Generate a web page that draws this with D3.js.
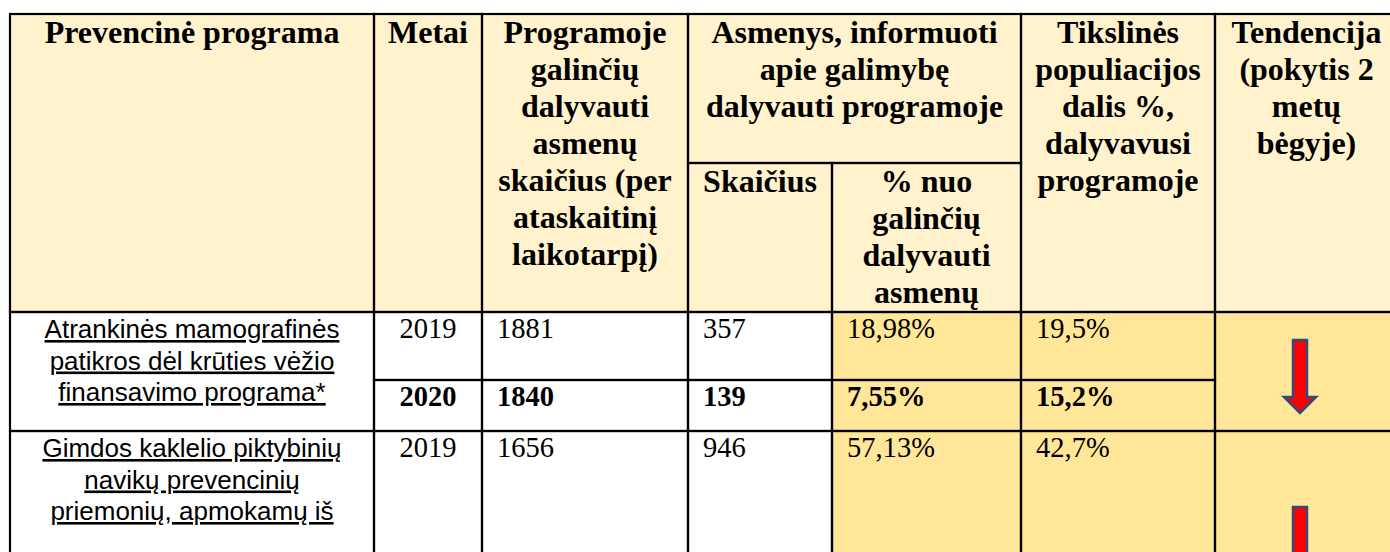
<!DOCTYPE html>
<html>
<head>
<meta charset="utf-8">
<script src="https://cdn.jsdelivr.net/npm/d3@7"></script>
<style>
  html, body { margin: 0; padding: 0; background: #ffffff; }
  svg { display: block; }
</style>
</head>
<body>
<svg id="chart" width="1390" height="552"></svg>
<script>
// ---------------- DATA ----------------
const headerProgram = ["Prevencinė programa"];
const headerYear = ["Metai"];
const headerEligible = ["Programoje", "galinčių", "dalyvauti", "asmenų", "skaičius (per", "ataskaitinį", "laikotarpį)"];
const headerInformed = ["Asmenys, informuoti", "apie galimybę", "dalyvauti programoje"];
const headerInformedCount = ["Skaičius"];
const headerInformedPct = ["% nuo", "galinčių", "dalyvauti", "asmenų"];
const headerTarget = ["Tikslinės", "populiacijos", "dalis %,", "dalyvavusi", "programoje"];
const headerTrend = ["Tendencija", "(pokytis 2", "metų", "bėgyje)"];

const programLines = [
  ["Atrankinės mamografinės", "patikros dėl krūties vėžio", "finansavimo programa*"],
  ["Gimdos kaklelio piktybinių", "navikų prevencinių", "priemonių, apmokamų iš"]
];
const rowProgram = [0, 0, 1];            // which program each row belongs to
const years = [2019, 2020, 2019];
const eligible = [1881, 1840, 1656];
const informedCount = [357, 139, 946];
const informedPct = [18.98, 7.55, 57.13];
const targetPct = [19.5, 15.2, 42.7];
const trend = ["down", "down"];          // per program

// ---------------- LAYOUT ----------------
const colKeys = ["program", "year", "eligible", "count", "pct", "target", "trend"];
const colEdges = [10, 374, 482, 688, 832, 1021, 1215, 1398];
const xL = d3.scaleOrdinal().domain(colKeys).range(colEdges.slice(0, 7));
const xR = d3.scaleOrdinal().domain(colKeys).range(colEdges.slice(1));

const tableTop = 14, subTop = 163, headerBottom = 312;
const rowEdges = [312, 380, 431, 600];
const yT = d3.scaleOrdinal().domain(d3.range(3)).range(rowEdges.slice(0, 3));
const yB = d3.scaleOrdinal().domain(d3.range(3)).range(rowEdges.slice(1));

const headerBg = "#FFF2CC", hiBg = "#FFE699", stroke = "#000";
const serif = "'Liberation Serif','Times New Roman',serif";
const sans = "'Liberation Sans',Arial,sans-serif";

const lt = d3.formatLocale({decimal: ",", thousands: " ", grouping: [3], currency: ["", " €"]});
const f2 = lt.format(".2f"), f1 = lt.format(".1f");

const svg = d3.select("#chart");

// ---------------- HEADER ----------------
const headerCells = [
  {x0: xL("program"), x1: xR("program"), y0: tableTop, y1: headerBottom, lines: headerProgram},
  {x0: xL("year"), x1: xR("year"), y0: tableTop, y1: headerBottom, lines: headerYear},
  {x0: xL("eligible"), x1: xR("eligible"), y0: tableTop, y1: headerBottom, lines: headerEligible},
  {x0: xL("count"), x1: xR("pct"), y0: tableTop, y1: subTop, lines: headerInformed},
  {x0: xL("count"), x1: xR("count"), y0: subTop, y1: headerBottom, lines: headerInformedCount},
  {x0: xL("pct"), x1: xR("pct"), y0: subTop, y1: headerBottom, lines: headerInformedPct},
  {x0: xL("target"), x1: xR("target"), y0: tableTop, y1: headerBottom, lines: headerTarget},
  {x0: xL("trend"), x1: xR("trend"), y0: tableTop, y1: headerBottom, lines: headerTrend}
];

const hg = svg.append("g");
hg.selectAll("rect").data(headerCells).join("rect")
  .attr("x", d => d.x0).attr("y", d => d.y0)
  .attr("width", d => d.x1 - d.x0).attr("height", d => d.y1 - d.y0)
  .attr("fill", headerBg);

hg.selectAll("text.h").data(headerCells).join("text")
  .attr("class", "h")
  .attr("font-family", serif).attr("font-weight", "bold").attr("font-size", 32)
  .attr("text-anchor", "middle").attr("fill", "#000")
  .each(function(d) {
    d3.select(this).selectAll("tspan").data(d.lines).join("tspan")
      .attr("x", (d.x0 + d.x1) / 2)
      .attr("y", (l, i) => d.y0 + 29 + i * 37)
      .text(l => l);
  });

// ---------------- BODY ----------------
const rows = d3.range(years.length).map(i => ({
  i,
  bold: i > 0 && rowProgram[i] === rowProgram[i - 1],
  cells: [
    {key: "year", text: String(years[i]), anchor: "middle", bg: "#fff"},
    {key: "eligible", text: String(eligible[i]), anchor: "start", bg: "#fff"},
    {key: "count", text: String(informedCount[i]), anchor: "start", bg: "#fff"},
    {key: "pct", text: f2(informedPct[i]) + "%", anchor: "start", bg: hiBg},
    {key: "target", text: f1(targetPct[i]) + "%", anchor: "start", bg: hiBg}
  ]
}));

// program groups (merged col1 & col7)
const groups = programLines.map((lines, p) => {
  const idx = d3.range(rowProgram.length).filter(i => rowProgram[i] === p);
  return {p, lines, y0: yT(idx[0]), y1: yB(idx[idx.length - 1]), trend: trend[p]};
});

const bg = svg.append("g");
bg.selectAll("rect.g1").data(groups).join("rect").attr("class", "g1")
  .attr("x", xL("program")).attr("y", d => d.y0)
  .attr("width", xR("program") - xL("program")).attr("height", d => d.y1 - d.y0)
  .attr("fill", "#fff");
bg.selectAll("rect.g7").data(groups).join("rect").attr("class", "g7")
  .attr("x", xL("trend")).attr("y", d => d.y0)
  .attr("width", xR("trend") - xL("trend")).attr("height", d => d.y1 - d.y0)
  .attr("fill", hiBg);

const cellData = rows.flatMap(r => r.cells.map(c => Object.assign({row: r.i, bold: r.bold}, c)));
bg.selectAll("rect.c").data(cellData).join("rect").attr("class", "c")
  .attr("x", d => xL(d.key)).attr("y", d => yT(d.row))
  .attr("width", d => xR(d.key) - xL(d.key)).attr("height", d => yB(d.row) - yT(d.row))
  .attr("fill", d => d.bg);

// cell texts
svg.append("g").selectAll("text").data(cellData).join("text")
  .attr("font-family", serif).attr("font-size", 28.5)
  .attr("font-weight", d => d.bold ? "bold" : "normal")
  .attr("text-anchor", d => d.anchor)
  .attr("x", d => d.anchor === "middle" ? (xL(d.key) + xR(d.key)) / 2 : xL(d.key) + 15)
  .attr("y", d => yT(d.row) + 26)
  .attr("fill", "#000")
  .text(d => d.text);

// program names (underlined Arial)
svg.append("g").selectAll("text").data(groups).join("text")
  .attr("font-family", sans).attr("font-size", 26)
  .attr("text-anchor", "middle").attr("fill", "#000")
  .style("text-decoration", "underline")
  .each(function(d) {
    d3.select(this).selectAll("tspan").data(d.lines).join("tspan")
      .attr("x", (xL("program") + xR("program")) / 2)
      .attr("y", (l, i) => d.y0 + 26 + i * 31.5)
      .text(l => l);
  });

// ---------------- GRID LINES ----------------
const lines = svg.append("g").attr("stroke", stroke).attr("stroke-width", 2.2).attr("fill", "none");
const allRects = headerCells.map(d => [d.x0, d.y0, d.x1, d.y1])
  .concat(groups.map(d => [xL("program"), d.y0, xR("program"), d.y1]))
  .concat(groups.map(d => [xL("trend"), d.y0, xR("trend"), d.y1]))
  .concat(cellData.map(d => [xL(d.key), yT(d.row), xR(d.key), yB(d.row)]));
lines.selectAll("rect").data(allRects).join("rect")
  .attr("x", d => d[0]).attr("y", d => d[1])
  .attr("width", d => d[2] - d[0]).attr("height", d => d[3] - d[1]);

// ---------------- TREND ARROWS ----------------
const arrowOffset = [28, 76];        // distance of arrow top below group top
const arrowLen = 73, shaftW = 14, headW = 32, headH = 16;
const arrowX = 1300;
const arrowPath = (x, y) => {
  const s = shaftW / 2, h = headW / 2, yb = y + arrowLen - headH;
  return `M${x - s},${y} L${x + s},${y} L${x + s},${yb} L${x + h},${yb} L${x},${y + arrowLen} L${x - h},${yb} L${x - s},${yb} Z`;
};
svg.append("g").selectAll("path").data(groups.filter(d => d.trend === "down")).join("path")
  .attr("d", d => arrowPath(arrowX, d.y0 + arrowOffset[d.p]))
  .attr("fill", "#FF0000")
  .attr("stroke", "#2F4B7C").attr("stroke-width", 2.5)
  .attr("stroke-linejoin", "miter");
</script>
</body>
</html>
